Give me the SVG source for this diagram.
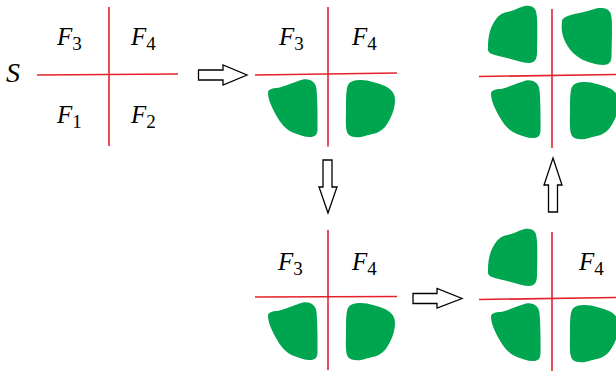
<svg xmlns="http://www.w3.org/2000/svg" xmlns:xlink="http://www.w3.org/1999/xlink" width="616" height="373" viewBox="0 0 616 373">
<style>
.ax{stroke:#e4222b;stroke-width:1.6;fill:none}
.blob{fill:#00a54f}
.lbl{font-family:"Liberation Serif","Times New Roman",serif;font-style:italic;font-size:25px;fill:#000}
.sub{font-style:normal;font-size:19px}
.arr{fill:#fff;stroke:#000;stroke-width:1.3;stroke-linejoin:miter}
</style>
<defs>
<path id="bl" class="blob" d="M0,13 C1,10 5,9 9,9 C16,8 26,3 35,0.5 C42,-1 48,3 48.5,10 C49.5,20 49.7,40 49.5,50 C49.5,56 47,58 42,58 C36,58 32,56 26,54 C18,51 13,45 8,36 C3,27 0,20 0,13 Z"/>
<path id="br" class="blob" d="M3,6 C5,2 10,1 16,1 C24,1 32,4 40,7 C46,10 50,14 50,21 C50,30 46,40 40,48 C34,55 26,55 20,57 C14,59 6,59 3,55 C0,50 1,40 1,30 C1,20 1,10 3,6 Z"/>
<path id="tl" class="blob" d="M1,42 C1,32 3,24 6,19 C9,13 13,9 18,7.5 C24,6 28,5 33,2.5 C39,0 46,0 48.5,5 C50.5,10 50.3,20 50.3,30 L50,47 C50,54 48,58 42,58 C35,58 28,55 20,53 C12,51 6,50 3,48 C0.5,46.5 1,44 1,42 Z"/>
<path id="tr" class="blob" d="M1,12 C3,9 8,7 16,5.5 C24,4 30,2 35,0.5 C41,-0.5 47,0 49.5,5 C51,9 51,15 51,25 L50.5,48 C50.5,54 48,57 42,57 C35,57 28,54 22,52 C15,48 10,44 6,37 C2,30 0.5,24 0.7,18 Z"/>
</defs>
<rect width="616" height="373" fill="#fff"/>

<g id="panel1">
<line class="ax" x1="109" y1="7" x2="109" y2="146"/>
<line class="ax" x1="37" y1="75" x2="178" y2="74"/>
<text class="lbl" x="6" y="82" style="font-size:28px">S</text>
<text class="lbl" x="57" y="45">F<tspan class="sub" dy="5">3</tspan></text>
<text class="lbl" x="131" y="45">F<tspan class="sub" dy="5">4</tspan></text>
<text class="lbl" x="57" y="123">F<tspan class="sub" dy="5">1</tspan></text>
<text class="lbl" x="131" y="123">F<tspan class="sub" dy="5">2</tspan></text>
</g>

<g id="panel2">
<line class="ax" x1="328" y1="7" x2="328" y2="146.5"/>
<line class="ax" x1="255" y1="75" x2="397" y2="73"/>
<text class="lbl" x="279" y="45">F<tspan class="sub" dy="5">3</tspan></text>
<text class="lbl" x="352" y="45">F<tspan class="sub" dy="5">4</tspan></text>
<use xlink:href="#bl" x="268" y="79"/>
<use xlink:href="#br" x="345" y="79"/>
</g>

<g id="panel3">
<line class="ax" x1="552" y1="9" x2="552" y2="148"/>
<line class="ax" x1="479" y1="76.5" x2="616" y2="74.5"/>
<use xlink:href="#tl" x="487" y="5"/>
<use xlink:href="#tr" x="561" y="8"/>
<use xlink:href="#bl" x="491" y="80"/>
<use xlink:href="#br" x="569" y="81"/>
</g>

<g id="panel4">
<line class="ax" x1="328" y1="230" x2="328" y2="370"/>
<line class="ax" x1="255" y1="297" x2="397" y2="296.5"/>
<text class="lbl" x="278" y="270">F<tspan class="sub" dy="5">3</tspan></text>
<text class="lbl" x="352" y="270">F<tspan class="sub" dy="5">4</tspan></text>
<use xlink:href="#bl" x="268" y="302"/>
<use xlink:href="#br" x="345" y="302"/>
</g>

<g id="panel5">
<line class="ax" x1="552" y1="232" x2="552" y2="371"/>
<line class="ax" x1="479" y1="299.5" x2="616" y2="297.5"/>
<text class="lbl" x="579" y="270">F<tspan class="sub" dy="5">4</tspan></text>
<use xlink:href="#tl" x="487" y="228"/>
<use xlink:href="#bl" x="491" y="303"/>
<use xlink:href="#br" x="569" y="304"/>
</g>

<g id="connectors">
<polygon class="arr" points="198.5,70 223,70 223,65 247,75 223,85 223,80 198.5,80"/>
<polygon class="arr" points="323,160 332,160 332,187 337,187 328,213 319,187 323,187"/>
<polygon class="arr" points="413,293.5 437,293.5 437,288.5 462,298.5 437,308 437,303.5 413,303.5"/>
<polygon class="arr" points="553,158 562,185 557.5,185 557.5,212 548.5,212 548.5,185 544,185"/>
</g>
</svg>
